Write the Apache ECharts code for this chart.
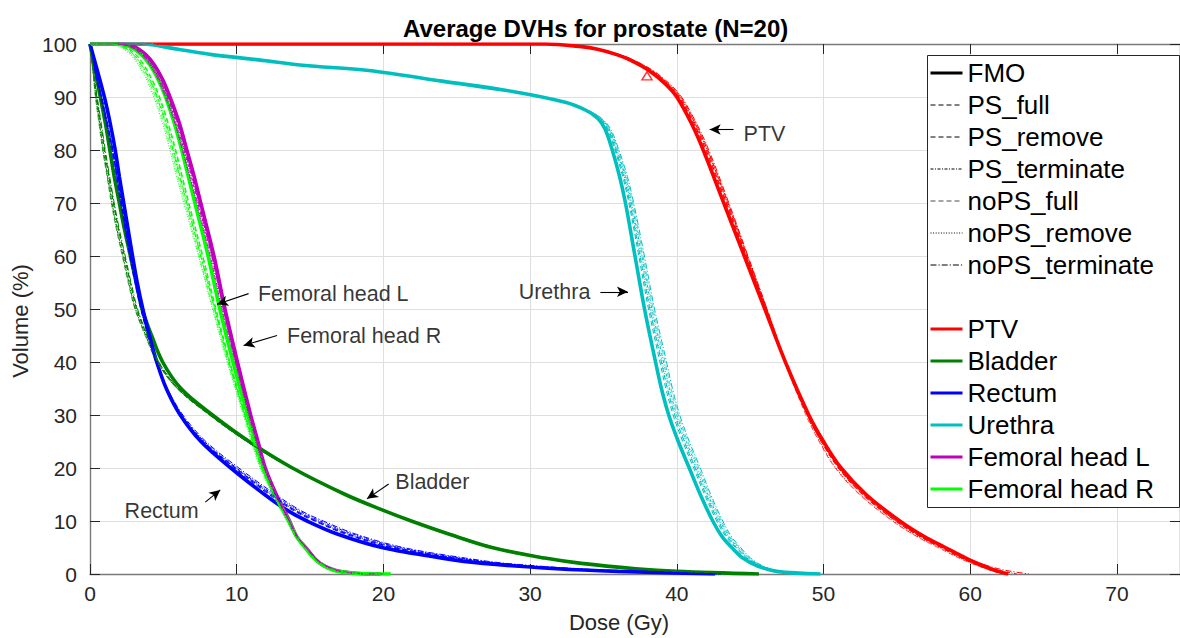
<!DOCTYPE html>
<html><head><meta charset="utf-8">
<script src="https://cdn.jsdelivr.net/npm/echarts@6/dist/echarts.min.js"></script>
<style>html,body{margin:0;padding:0;background:#fff}#chart{width:1180px;height:638px}</style>
</head><body><div id="chart"></div>
<script>
// ---------------- DATA ----------------
const methods = ['FMO','PS_full','PS_remove','PS_terminate','noPS_full','noPS_remove','noPS_terminate'];
const organs = ['PTV','Bladder','Rectum','Urethra','Femoral head L','Femoral head R'];

// PTV: volume levels (%) and dose (Gy) per method
const ptvVol        = [100,100,99.5,99,98,97,95,92.5,90,85,80,70,60,50,40,30,25,20,15,10,7,5,3,2,1,0.5,0];
const ptvFMO        = [0,31,33.5,34.6,35.9,36.8,38.1,39.2,40.0,41.0,41.8,43.2,44.6,46.0,47.4,49.0,50.0,51.2,52.9,55.2,56.9,58.3,59.7,60.5,61.4,61.9,62.6];
const ptvPSfull     = [0,31,33.55,34.7,36.0,36.9,38.22,39.35,40.15,41.18,42.0,43.4,44.75,46.1,47.4,48.9,49.85,51.0,52.65,54.9,56.6,58.0,59.4,60.2,61.1,61.65,62.4];
const ptvPSremove   = [0,31,33.53,34.68,35.98,36.88,38.2,39.32,40.12,41.15,41.95,43.35,44.72,46.08,47.4,48.92,49.88,51.05,52.7,54.95,56.65,58.05,59.45,60.25,61.15,61.7,62.3];
const ptvPSterm     = [0,31,33.58,34.72,36.05,36.95,38.28,39.4,40.22,41.25,42.08,43.48,44.82,46.15,47.45,48.95,49.9,51.05,52.7,54.95,56.7,58.15,59.6,60.5,61.6,62.3,63.2];
const ptvNoPSfull   = [0,31,33.6,34.75,36.08,37.0,38.32,39.45,40.28,41.3,42.12,43.5,44.8,46.1,47.35,48.8,49.7,50.8,52.45,54.7,56.4,57.8,59.25,60.1,61.05,61.6,62.2];
const ptvNoPSremove = [0,31,33.58,34.72,36.05,36.95,38.28,39.4,40.22,41.25,42.08,43.45,44.78,46.1,47.37,48.85,49.75,50.85,52.5,54.75,56.45,57.9,59.3,60.15,61.1,61.7,62.4];
const ptvNoPSterm   = [0,31,33.62,34.8,36.12,37.05,38.38,39.5,40.32,41.35,42.18,43.55,44.85,46.15,47.4,48.9,49.85,51.1,52.8,55.1,56.85,58.3,59.8,60.7,61.9,62.8,64.0];
const ptvMarker     = [[37.97, 94.0]];

// Bladder
const blVol        = [100,95,90,85,80,75,70,65,60,55,50,45,40,35,30,25,20,15,12,10,7.5,5,3,2,1,0.5,0];
const blFMO        = [0,0.35,0.7,1.05,1.35,1.65,2.0,2.35,2.75,3.15,3.55,4.2,4.95,6.2,8.35,10.85,13.8,17.4,20.0,21.9,24.5,27.4,31.0,33.5,37.2,40.0,45.6];
const blPSfull     = [0,0.23,0.46,0.73,0.99,1.29,1.6,1.95,2.35,2.75,3.19,3.88,4.67,6.0,8.19,10.73,13.72,17.32,19.96,21.9,24.5,27.4,31.1,33.6,37.3,39.9,44.8];
const blPSremove   = [0,0.23,0.46,0.73,0.99,1.29,1.6,1.95,2.35,2.75,3.19,3.88,4.67,6.0,8.15,10.7,13.7,17.3,19.9,21.8,24.4,27.3,30.9,33.4,37.0,39.8,44.0];
const blPSterm     = [0,0.2,0.4,0.65,0.9,1.2,1.5,1.85,2.25,2.65,3.1,3.8,4.6,5.95,8.2,10.75,13.7,17.35,20.0,22.0,24.65,27.6,31.25,33.8,37.5,40.3,45.2];
const blNoPSfull   = [0,0.19,0.37,0.61,0.86,1.16,1.45,1.8,2.2,2.6,3.06,3.76,4.57,5.93,8.13,10.69,13.69,17.29,19.95,21.9,24.55,27.45,31.1,33.6,37.3,40.1,44.8];
const blNoPSremove = [0,0.2,0.4,0.65,0.9,1.2,1.5,1.85,2.25,2.65,3.1,3.8,4.6,5.95,8.15,10.7,13.7,17.3,19.95,21.85,24.45,27.35,31.0,33.5,37.2,40.0,44.2];
const blNoPSterm   = [0,0.25,0.49,0.77,1.04,1.34,1.65,2.0,2.4,2.8,3.24,3.92,4.7,6.03,8.21,10.75,13.75,17.35,20.05,22.0,24.7,27.65,31.3,33.9,37.6,40.5,45.3];

// Rectum
const reVol        = [100,95,90,85,80,75,70,65,60,55,50,45,40,35,30,25,20,15,12,10,7.5,5,3,2,1,0.5,0];
const reFMO        = [0,0.5,0.98,1.38,1.72,2.0,2.3,2.6,2.9,3.22,3.6,4.05,4.55,5.2,6.15,7.56,9.6,11.9,13.45,14.8,16.9,19.9,24.0,26.8,31.8,36.0,42.6];
const rePSfull     = [0,0.35,0.78,1.18,1.55,1.85,2.15,2.45,2.75,3.1,3.5,3.97,4.5,5.2,6.2,7.71,9.9,12.3,13.95,15.4,17.6,20.7,24.8,27.6,32.4,36.3,42.2];
const rePSremove   = [0,0.35,0.78,1.18,1.55,1.85,2.15,2.45,2.75,3.1,3.5,3.97,4.5,5.18,6.17,7.66,9.8,12.2,13.85,15.3,17.45,20.5,24.6,27.4,32.2,36.2,41.8];
const rePSterm     = [0,0.33,0.76,1.16,1.53,1.83,2.13,2.43,2.73,3.08,3.48,3.96,4.5,5.22,6.25,7.8,10.0,12.5,14.2,15.7,17.95,21.1,25.3,28.1,33.0,37.0,43.0];
const reNoPSfull   = [0,0.3,0.7,1.1,1.47,1.77,2.08,2.38,2.7,3.05,3.45,3.93,4.48,5.2,6.22,7.75,9.95,12.4,14.05,15.55,17.75,20.9,25.0,27.8,32.7,36.6,42.5];
const reNoPSremove = [0,0.35,0.74,1.14,1.5,1.8,2.1,2.4,2.72,3.07,3.47,3.95,4.5,5.2,6.2,7.7,9.9,12.35,14.0,15.45,17.65,20.8,24.9,27.7,32.5,36.4,42.3];
const reNoPSterm   = [0,0.37,0.8,1.2,1.56,1.86,2.17,2.47,2.78,3.12,3.52,4.0,4.55,5.27,6.33,7.9,10.15,12.65,14.35,15.9,18.15,21.35,25.6,28.4,33.3,37.3,43.0];

// Urethra
const urVol        = [100,100,99,98,97,96,95,93,91,89,87.5,86,84,80,75,70,60,50,40,35,30,25,20,15,10,7,5,3,1.5,0.5,0];
const urFMO        = [0,3.5,6.0,8.3,11.5,14.5,19.0,24.0,28.9,32.4,33.8,34.6,35.1,35.6,36.1,36.5,37.15,37.8,38.55,38.95,39.45,40.1,40.85,41.6,42.45,43.1,43.75,44.5,45.5,46.8,49.8];
const urPSfull     = [0,3.5,6.0,8.3,11.5,14.5,19.0,24.0,28.9,32.4,33.88,34.74,35.3,35.84,36.38,36.8,37.49,38.16,38.95,39.35,39.85,40.5,41.25,41.98,42.81,43.44,44.07,44.78,45.7,46.92,49.6];
const urPSremove   = [0,3.5,6.0,8.3,11.5,14.5,19.0,24.0,28.9,32.4,33.86,34.71,35.25,35.78,36.31,36.73,37.41,38.07,38.85,39.25,39.75,40.4,41.15,41.89,42.72,43.36,43.99,44.71,45.65,46.89,49.5];
const urPSterm     = [0,3.5,6.0,8.3,11.5,14.5,19.0,24.0,28.9,32.4,33.91,34.79,35.38,35.93,36.49,36.91,37.62,38.3,39.1,39.5,40.0,40.65,41.4,42.12,42.95,43.57,44.19,44.89,45.78,46.97,49.8];
const urNoPSfull   = [0,3.5,6.0,8.3,11.5,14.5,19.0,24.0,28.9,32.4,33.93,34.83,35.43,35.99,36.56,36.99,37.7,38.39,39.2,39.6,40.1,40.75,41.5,42.22,43.04,43.65,44.27,44.96,45.83,47.0,49.9];
const urNoPSremove = [0,3.5,6.0,8.3,11.5,14.5,19.0,24.0,28.9,32.4,33.89,34.76,35.33,35.87,36.42,36.84,37.53,38.21,39.0,39.4,39.9,40.55,41.3,42.03,42.86,43.48,44.11,44.82,45.73,46.94,49.7];
const urNoPSterm   = [0,3.5,6.0,8.3,11.5,14.5,19.0,24.0,28.9,32.4,33.95,34.86,35.48,36.05,36.63,37.06,37.79,38.48,39.3,39.7,40.2,40.85,41.6,42.31,43.13,43.74,44.35,45.03,45.88,47.03,50.0];

// Femoral head L
const flVol        = [100,100,99.5,98,96,93,90,85,80,75,70,60,50,40,30,25,20,15,10,7,5,3,2,1,0.5,0.1,0];
const flFMO        = [0,2.0,3.0,3.8,4.4,5.0,5.45,6.1,6.6,7.1,7.55,8.45,9.2,10.05,10.95,11.45,11.95,12.7,13.6,14.1,14.7,15.3,15.7,16.4,17.0,18.2,19.8];
const flPSfull     = [0,1.9,2.9,3.7,4.3,4.9,5.35,6.0,6.5,7.0,7.45,8.35,9.15,10.0,10.9,11.4,11.95,12.7,13.6,14.15,14.7,15.35,15.75,16.45,17.1,18.3,19.6];
const flPSremove   = [0,1.9,2.9,3.7,4.3,4.9,5.35,6.0,6.5,7.0,7.45,8.35,9.1,9.95,10.9,11.4,11.9,12.65,13.55,14.1,14.7,15.3,15.7,16.4,17.0,18.2,19.5];
const flPSterm     = [0,1.8,2.8,3.6,4.2,4.8,5.25,5.9,6.4,6.9,7.35,8.3,9.1,9.95,10.85,11.35,11.9,12.65,13.6,14.15,14.75,15.4,15.8,16.5,17.1,18.4,19.9];
const flNoPSfull   = [0,1.7,2.7,3.5,4.1,4.7,5.15,5.8,6.3,6.8,7.3,8.2,9.0,9.9,10.85,11.35,11.9,12.65,13.55,14.1,14.7,15.35,15.75,16.45,17.05,18.3,19.7];
const flNoPSremove = [0,1.7,2.7,3.5,4.1,4.7,5.15,5.8,6.3,6.8,7.25,8.2,9.0,9.9,10.8,11.3,11.85,12.6,13.5,14.05,14.65,15.3,15.7,16.4,17.0,18.2,19.5];
const flNoPSterm   = [0,1.8,2.8,3.6,4.2,4.8,5.3,5.95,6.45,6.95,7.4,8.3,9.1,9.95,10.9,11.4,11.95,12.7,13.6,14.15,14.75,15.4,15.8,16.5,17.1,18.4,20.0];

// Femoral head R
const frVol        = [100,100,99.5,98,96,93,90,85,80,75,70,60,50,40,30,25,20,15,10,7,5,3,2,1,0.5,0.1,0];
const frFMO        = [0,1.8,2.7,3.5,4.1,4.7,5.15,5.75,6.25,6.7,7.15,8.05,8.85,9.75,10.75,11.3,11.85,12.6,13.55,14.1,14.65,15.25,15.7,16.3,16.9,18.5,20.5];
const frPSfull     = [0,1.5,2.4,3.15,3.7,4.3,4.75,5.35,5.85,6.3,6.75,7.7,8.6,9.55,10.6,11.15,11.75,12.55,13.5,14.05,14.65,15.25,15.7,16.35,17.0,18.4,20.2];
const frPSremove   = [0,1.5,2.35,3.1,3.65,4.25,4.7,5.3,5.8,6.25,6.7,7.65,8.55,9.5,10.55,11.1,11.7,12.5,13.5,14.05,14.6,15.2,15.65,16.3,16.9,18.3,20.0];
const frPSterm     = [0,1.4,2.25,3.0,3.55,4.15,4.6,5.2,5.7,6.15,6.6,7.55,8.5,9.5,10.55,11.15,11.75,12.55,13.5,14.1,14.65,15.3,15.75,16.4,17.0,18.5,20.3];
const frNoPSfull   = [0,1.3,2.1,2.85,3.4,4.0,4.45,5.05,5.55,6.0,6.5,7.45,8.4,9.4,10.5,11.05,11.65,12.5,13.45,14.0,14.6,15.2,15.65,16.3,16.9,18.3,20.1];
const frNoPSremove = [0,1.2,2.0,2.75,3.3,3.9,4.35,4.95,5.45,5.9,6.4,7.4,8.35,9.35,10.45,11.0,11.6,12.45,13.4,14.0,14.55,15.15,15.6,16.25,16.85,18.2,19.9];
const frNoPSterm   = [0,1.4,2.2,2.95,3.5,4.1,4.55,5.15,5.65,6.1,6.6,7.55,8.5,9.45,10.55,11.1,11.7,12.55,13.5,14.05,14.65,15.25,15.7,16.35,16.95,18.4,20.3];

// Annotations (text anchor and arrows, in data units)
const annLabels    = ['PTV','Urethra','Femoral head L','Femoral head R','Bladder','Rectum'];
const annTextAt    = [[44.55,83.1],[29.22,53.25],[11.45,52.9],[13.43,45.0],[20.81,17.44],[2.36,11.8]];
const annArrowFrom = [[43.87,83.87],[34.79,53.25],[10.81,52.9],[12.75,45.0],[20.36,16.99],[7.86,13.56]];
const annArrowTo   = [[42.24,83.87],[36.67,53.25],[8.66,50.9],[10.47,43.13],[18.88,14.18],[8.88,15.87]];

// ---------------- STYLE ----------------
const FONT = "'Liberation Sans', Arial, Helvetica, sans-serif";
const organColors = ['#FF0000','#008000','#0000FF','#00BFBF','#BF00BF','#00FF00'];
const methodDash  = ['solid',[5,3],[5,3],[3,1.5,1,1.5],[5,3],[1,1.6],[6,2,1.2,2]];
const methodWidth = [3.6,1,1,1,0.7,1,1];
const legendWidth = [3,1,1,1,0.7,1,1];

const organVols  = [ptvVol, blVol, reVol, urVol, flVol, frVol];
const organDoses = [
  [ptvFMO, ptvPSfull, ptvPSremove, ptvPSterm, ptvNoPSfull, ptvNoPSremove, ptvNoPSterm],
  [blFMO, blPSfull, blPSremove, blPSterm, blNoPSfull, blNoPSremove, blNoPSterm],
  [reFMO, rePSfull, rePSremove, rePSterm, reNoPSfull, reNoPSremove, reNoPSterm],
  [urFMO, urPSfull, urPSremove, urPSterm, urNoPSfull, urNoPSremove, urNoPSterm],
  [flFMO, flPSfull, flPSremove, flPSterm, flNoPSfull, flNoPSremove, flNoPSterm],
  [frFMO, frPSfull, frPSremove, frPSterm, frNoPSfull, frNoPSremove, frNoPSterm]
];

const series = [];
// method legend entries (line-style keys)
methods.forEach((m, mi) => {
  series.push({type:'line', name:m, data:[], symbol:'none', silent:true,
    itemStyle:{color:'#000'}, lineStyle:{color:'#000', width:legendWidth[mi], type:methodDash[mi]}});
});
// organ curves: FMO first, then the other methods on top
methods.forEach((m, mi) => {
  organs.forEach((org, oi) => {
    const vols = organVols[oi];
    series.push({
      type:'line', name: mi === 0 ? org : org + ' ' + m,
      data: organDoses[oi][mi].map((d, i) => [d, vols[i]]),
      symbol:'none', smooth:0.35, silent:true,
      itemStyle:{color:organColors[oi]},
      lineStyle:{color:organColors[oi], width:methodWidth[mi], type:methodDash[mi]}
    });
  });
});
// PTV marker
series.push({type:'scatter', name:'PTV marker', data:ptvMarker, symbol:'triangle', symbolSize:[10,8],
  silent:true, itemStyle:{color:'#fff', borderColor:'#FF0000', borderWidth:1.5}, z:5});
// annotations
series.push({
  type:'scatter', name:'annotations', silent:true, symbolSize:0, z:6,
  data: annLabels.map((t, i) => ({name:t, value:annTextAt[i]})),
  label:{show:true, position:'right', distance:0, formatter:'{b}', color:'#000', fontSize:21.5, fontFamily:FONT},
  markLine:{silent:true, symbol:['none','arrow'], symbolSize:[8,11], animation:false,
    lineStyle:{color:'#000', width:1.1, type:'solid'}, label:{show:false},
    data: annLabels.map((t, i) => [{coord:annArrowFrom[i]}, {coord:annArrowTo[i]}])}
});

const axisLineGray = {color:'#7a7a7a', width:1.4};
const tickStyle = {color:'#262626', width:1};
const legendBase = {orient:'vertical', left:929, padding:0, itemWidth:32, itemHeight:14, itemGap:0,
  selectedMode:false, z:6, itemStyle:{opacity:0},
  textStyle:{fontSize:26, lineHeight:32, color:'#000', fontFamily:FONT}};
const option = {
  animation:false,
  backgroundColor:'#fff',
  title:{text:'Average DVHs for prostate (N=20)', left:403, top:16, padding:0,
    textStyle:{fontSize:24, fontWeight:'bold', color:'#000', fontFamily:FONT}},
  grid:{left:90, right:0, top:44, bottom:61, containLabel:false},
  xAxis:[
    {type:'value', position:'bottom', min:0, max:74.3, interval:10,
     name:'Dose (Gy)', nameLocation:'middle', nameGap:37,
     nameTextStyle:{fontSize:22, color:'#262626', fontFamily:FONT, padding:[0,32,0,0]},
     axisLine:{show:true, onZero:false, lineStyle:axisLineGray},
     axisTick:{show:true, inside:true, length:10, lineStyle:tickStyle},
     axisLabel:{fontSize:21, color:'#262626', fontFamily:FONT, margin:9, showMaxLabel:false},
     splitLine:{show:true, lineStyle:{color:'#dfdfdf', width:1}}},
    {type:'value', position:'top', min:0, max:74.3, interval:10,
     axisLine:{show:true, onZero:false, lineStyle:axisLineGray},
     axisTick:{show:true, inside:true, length:10, lineStyle:tickStyle},
     axisLabel:{show:false}, splitLine:{show:false}}
  ],
  yAxis:[
    {type:'value', position:'left', min:0, max:100, interval:10,
     name:'Volume (%)', nameLocation:'middle', nameGap:53, nameRotate:90,
     nameTextStyle:{fontSize:22, color:'#262626', fontFamily:FONT, padding:[0,24,0,0]},
     axisLine:{show:true, onZero:false, lineStyle:axisLineGray},
     axisTick:{show:true, inside:true, length:10, lineStyle:tickStyle},
     axisLabel:{fontSize:21, color:'#262626', fontFamily:FONT, margin:13},
     splitLine:{show:true, lineStyle:{color:'#dfdfdf', width:1}}},
    {type:'value', position:'right', min:0, max:100, interval:10,
     axisLine:{show:true, onZero:false, lineStyle:axisLineGray},
     axisTick:{show:true, inside:true, length:10, lineStyle:tickStyle},
     axisLabel:{show:false}, splitLine:{show:false}}
  ],
  legend:[
    Object.assign({}, legendBase, {top:57,
      data: methods.map((m, mi) => ({name:m, itemStyle:{opacity:0},
        lineStyle:{color:'#000', width:legendWidth[mi], type:methodDash[mi]}}))}),
    Object.assign({}, legendBase, {top:313,
      data: organs.map((o, oi) => ({name:o, itemStyle:{opacity:0},
        lineStyle:{color:organColors[oi], width:3, type:'solid'}}))})
  ],
  graphic:[{type:'rect', z:5, silent:true,
    shape:{x:927.5, y:55.5, width:252, height:452},
    style:{fill:'#fff', stroke:'#262626', lineWidth:1}}],
  series: series
};
const chart = echarts.init(document.getElementById('chart'), null, {renderer:'svg'});
chart.setOption(option);
</script></body></html>
